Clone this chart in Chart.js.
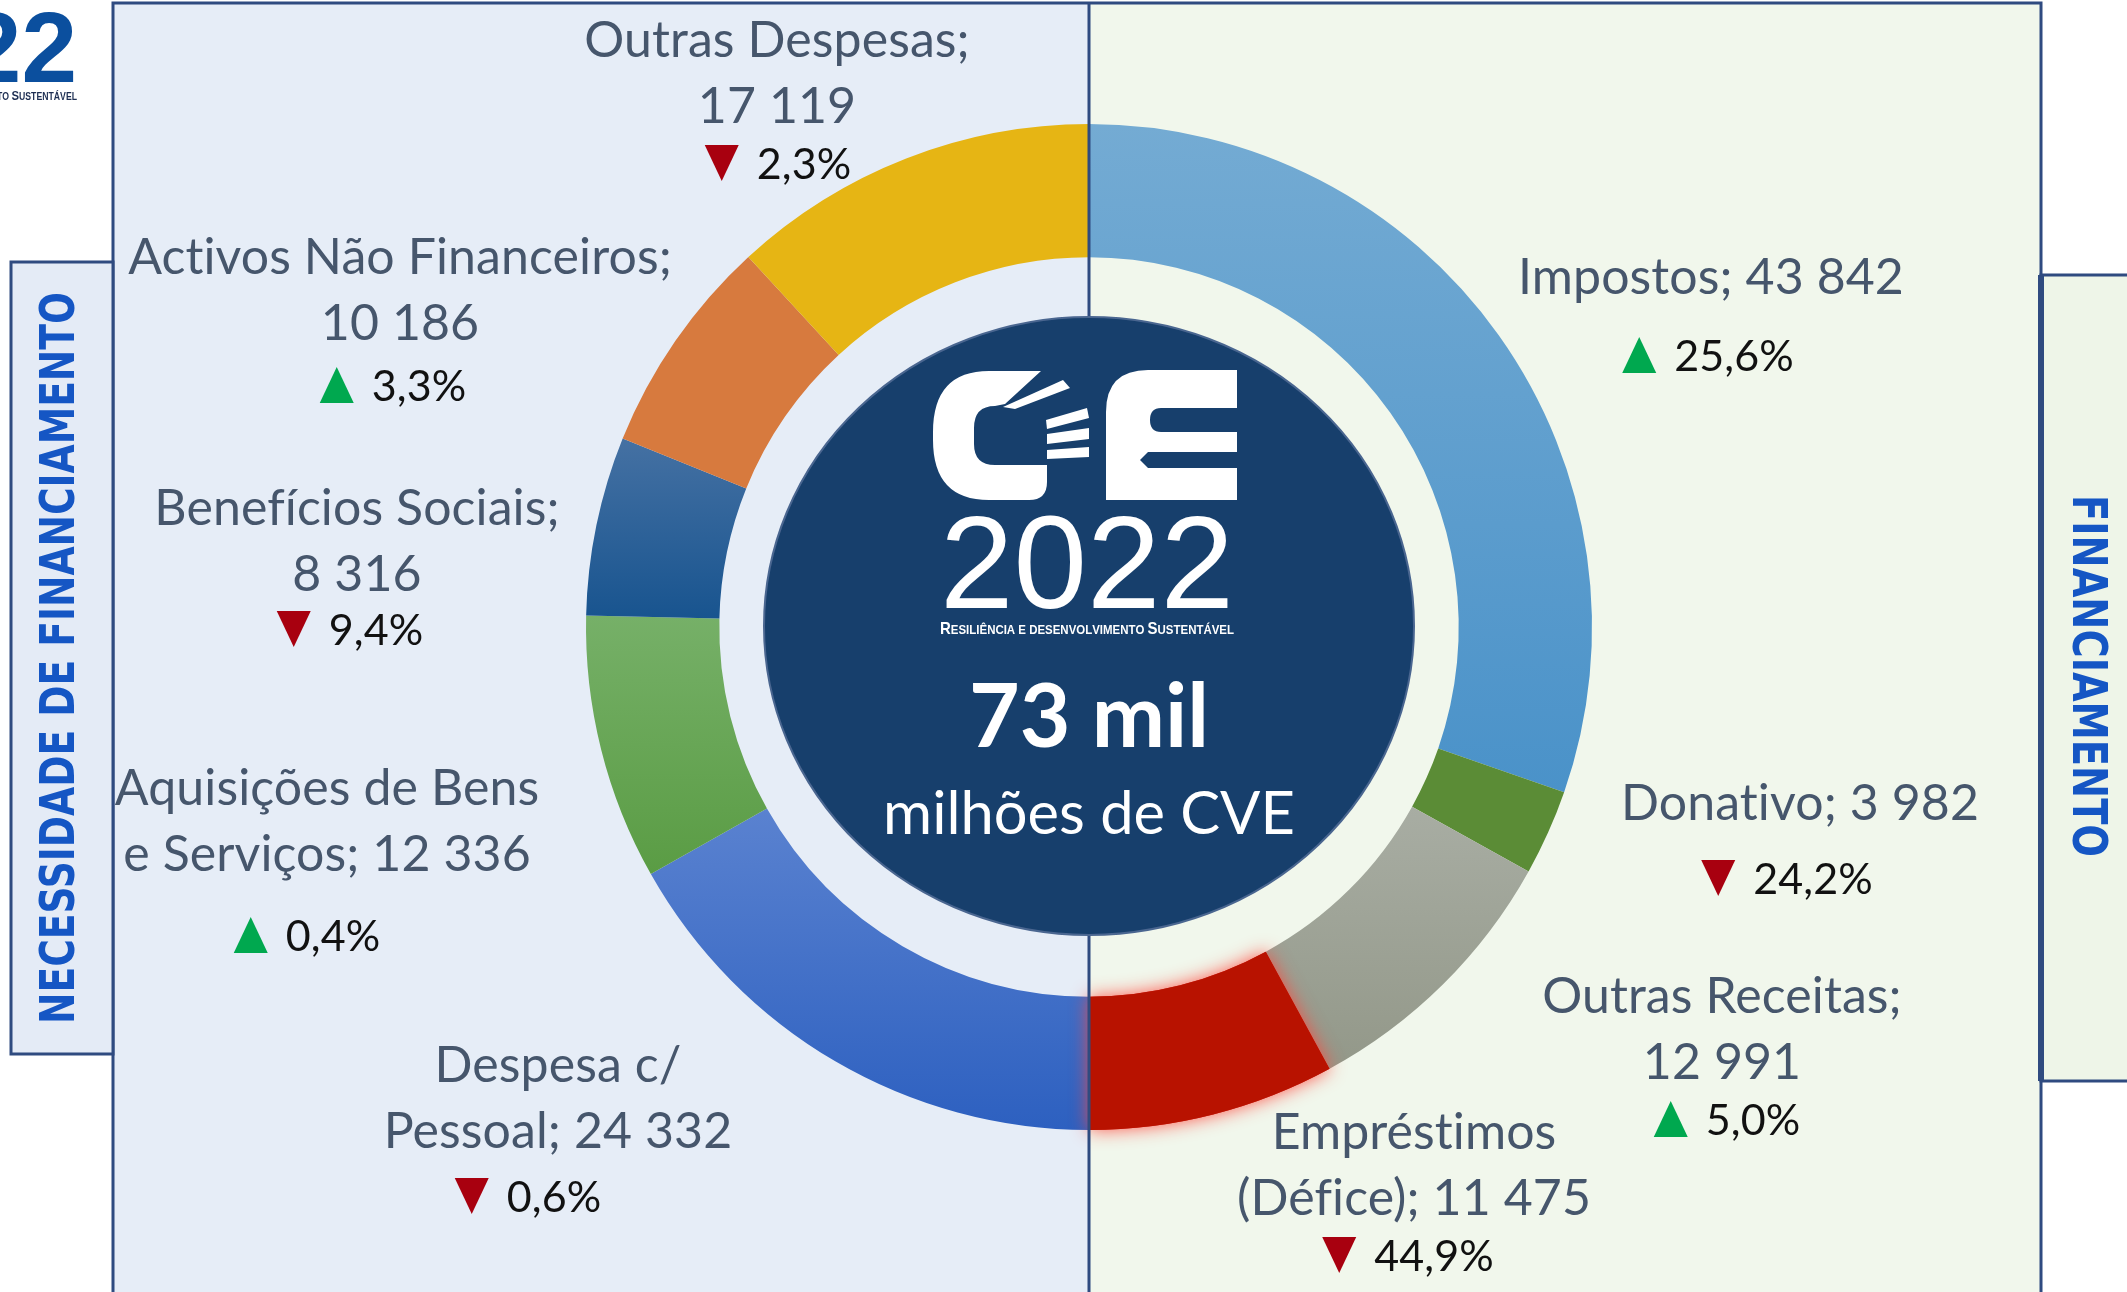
<!DOCTYPE html>
<html lang="pt">
<head>
<meta charset="utf-8">
<title>OE 2022 - Necessidade de financiamento e financiamento</title>
<script src="https://cdn.jsdelivr.net/npm/chart.js@4.4.1/dist/chart.umd.min.js"></script>
<style>
    html, body { margin: 0; padding: 0; background: #fff; }
    #wrap { width: 2127px; height: 1292px; }
</style>
</head>
<body>
<div id="wrap"><canvas id="oe" width="2127" height="1292"></canvas></div>
<script>
// ------------------------------------------------------------
// Dados (milhões de CVE) - sentido horário a partir do topo
// ------------------------------------------------------------
const categories = [
    'Impostos', 'Donativo', 'Outras Receitas', 'Empréstimos (Défice)',
    'Despesa c/ Pessoal', 'Aquisições de Bens e Serviços', 'Benefícios Sociais',
    'Activos Não Financeiros', 'Outras Despesas',
];
const values = [43842, 3982, 12991, 11475, 24332, 12336, 8316, 10186, 17119];
// variação em %
const changes = [25.6, -24.2, 5.0, -44.9, -0.6, 0.4, -9.4, 3.3, -2.3];

const totalText = '73 mil';
const unitText = 'milhões de CVE';
const leftTitle = 'NECESSIDADE DE FINANCIAMENTO';
const rightTitle = 'FINANCIAMENTO';
const logoYear = '2022';
const logoMotto = 'Resiliência e desenvolvimento Sustentável';

// cores (topo / base do gradiente)
const colorsTop = ['#74abd3', '#5b8c36', '#a8ada3', '#b81200', '#5a82d0', '#76b068', '#4571a3', '#d77a3e', '#e6b514'];
const colorsBottom = ['#4a92c9', '#5b8c36', '#939889', '#b81200', '#2d60c0', '#5a9c44', '#18548f', '#d77a3e', '#e6b514'];
const glowIndex = 3;
const cutoutRatio = 0.735;

// posição das etiquetas: centro do texto, quebra de linha (nº de palavras), linha da variação
const labelLayout = [
    { x: 1711, y: 278, wrap: 0, px: 1708, py: 355 },
    { x: 1800, y: 804, wrap: 0, px: 1787, py: 878 },
    { x: 1722, y: 997, wrap: 2, px: 1727, py: 1119 },
    { x: 1414, y: 1133, wrap: 1, px: 1408, py: 1255 },
    { x: 558, y: 1066, wrap: 2, px: 528, py: 1196 },
    { x: 327, y: 789, wrap: 3, px: 307, py: 935 },
    { x: 357, y: 509, wrap: 2, px: 350, py: 629 },
    { x: 400, y: 258, wrap: 3, px: 393, py: 385 },
    { x: 777, y: 41, wrap: 2, px: 778, py: 163 },
];

const navy = '#2f4b80';
const labelFont = 'Lato, "Open Sans", sans-serif';

// ------------------------------------------------------------
// Ajudantes
// ------------------------------------------------------------
function fmt(v) {
    return String(v).replace(/\B(?=(\d{3})+(?!\d))/g, ' ');
}

function labelLines(i) {
    const words = (categories[i] + '; ' + fmt(values[i])).split(' ');
    const n = labelLayout[i].wrap;
    return n ? [words.slice(0, n).join(' '), words.slice(n).join(' ')] : [words.join(' ')];
}

// limites verticais de um sector (para o gradiente)
function arcBounds(chart, i) {
    const a = chart.chartArea;
    const cy = (a.top + a.bottom) / 2;
    const R = Math.min(a.right - a.left, a.bottom - a.top) / 2;
    const r = R * cutoutRatio;
    const total = values.reduce((s, v) => s + v, 0);
    const before = values.slice(0, i).reduce((s, v) => s + v, 0);
    const a0 = -Math.PI / 2 + 2 * Math.PI * before / total;
    const a1 = a0 + 2 * Math.PI * values[i] / total;
    let lo = Infinity, hi = -Infinity;
    for (let k = 0; k <= 40; k++) {
        const t = a0 + (a1 - a0) * k / 40;
        [r, R].forEach(rad => {
            const y = cy + rad * Math.sin(t);
            lo = Math.min(lo, y);
            hi = Math.max(hi, y);
        });
    }
    return [lo, hi];
}

function segmentFill(c) {
    const i = c.dataIndex;
    if (c.type !== 'data' || !c.chart.chartArea) return colorsTop[i];
    if (colorsTop[i] === colorsBottom[i]) return colorsTop[i];
    const [y0, y1] = arcBounds(c.chart, i);
    const g = c.chart.ctx.createLinearGradient(0, y0, 0, y1);
    g.addColorStop(0, colorsTop[i]);
    g.addColorStop(1, colorsBottom[i]);
    return g;
}

function fitFont(ctx, text, weight, family, width) {
    ctx.font = `${weight} 100px ${family}`;
    const size = 100 * width / ctx.measureText(text).width;
    ctx.font = `${weight} ${size}px ${family}`;
}

// versaletes (maiúsculas grandes, minúsculas em maiúsculas pequenas)
function drawSmallCaps(ctx, text, x, y, big, small, width, align, color) {
    const fam = '"Liberation Sans", Arial, sans-serif';
    const parts = [...text].map(ch => {
        const up = ch.toUpperCase();
        const isCap = ch === up && ch !== ch.toLowerCase();
        return { ch: up, size: isCap ? big : small };
    });
    let total = 0;
    parts.forEach(p => {
        ctx.font = `bold ${p.size}px ${fam}`;
        p.w = ctx.measureText(p.ch).width;
        total += p.w;
    });
    ctx.save();
    ctx.translate(align === 'right' ? x - width : x - width / 2, y);
    ctx.scale(width / total, 1);
    ctx.fillStyle = color;
    ctx.textAlign = 'left';
    ctx.textBaseline = 'alphabetic';
    let px = 0;
    parts.forEach(p => {
        ctx.font = `bold ${p.size}px ${fam}`;
        ctx.fillText(p.ch, px, 0);
        px += p.w;
    });
    ctx.restore();
}

function drawSideTitle(ctx, text, cx, cy, len, angle) {
    ctx.save();
    ctx.translate(cx, cy);
    ctx.rotate(angle);
    ctx.font = 'bold 48px "Liberation Sans Narrow", "DejaVu Sans Condensed", sans-serif';
    const w = ctx.measureText(text).width;
    ctx.scale(len / w, 1);
    ctx.fillStyle = '#1556c4';
    ctx.textAlign = 'center';
    ctx.textBaseline = 'middle';
    ctx.fillText(text, 0, 0);
    ctx.restore();
}

// símbolo "OE"
function drawEmblem(ctx, ox, oy) {
    ctx.save();
    ctx.translate(ox, oy);
    ctx.fillStyle = '#fff';
    // C
    ctx.beginPath();
    ctx.moveTo(0, 62);
    ctx.quadraticCurveTo(0, 1, 56, 1);
    ctx.lineTo(108, 1);
    ctx.lineTo(72, 34);
    ctx.lineTo(62, 36);
    ctx.quadraticCurveTo(41, 36, 41, 58);
    ctx.lineTo(41, 74);
    ctx.quadraticCurveTo(41, 95, 62, 95);
    ctx.lineTo(114, 95);
    ctx.lineTo(114, 112);
    ctx.quadraticCurveTo(114, 130, 96, 130);
    ctx.lineTo(56, 130);
    ctx.quadraticCurveTo(0, 130, 0, 70);
    ctx.closePath();
    ctx.fill();
    // riscas
    [
        [[70, 37], [130, 10], [137, 18], [82, 39]],
        [[113, 50], [154, 38], [156, 48], [114, 59]],
        [[114, 64], [156, 58], [156, 69], [114, 74]],
        [[114, 80], [156, 77], [156, 87], [114, 89]],
    ].forEach(poly => {
        ctx.beginPath();
        poly.forEach(([x, y], k) => (k ? ctx.lineTo(x, y) : ctx.moveTo(x, y)));
        ctx.closePath();
        ctx.fill();
    });
    // E
    ctx.beginPath();
    ctx.moveTo(173, 42);
    ctx.quadraticCurveTo(173, 0, 215, 0);
    ctx.lineTo(304, 0);
    ctx.lineTo(304, 38);
    ctx.lineTo(228, 38);
    ctx.quadraticCurveTo(217, 38, 217, 50);
    ctx.quadraticCurveTo(217, 62, 228, 62);
    ctx.lineTo(304, 62);
    ctx.lineTo(304, 82);
    ctx.lineTo(215, 82);
    ctx.lineTo(207, 90);
    ctx.lineTo(215, 98);
    ctx.lineTo(304, 98);
    ctx.lineTo(304, 130);
    ctx.lineTo(173, 130);
    ctx.closePath();
    ctx.fill();
    ctx.restore();
}

function drawBackground(ctx) {
    // painéis
    ctx.fillStyle = '#e6edf7';
    ctx.fillRect(113, 3, 976, 1300);
    ctx.fillStyle = '#f1f7ec';
    ctx.fillRect(1089, 3, 952, 1300);
    ctx.strokeStyle = navy;
    ctx.lineWidth = 3;
    ctx.beginPath();
    ctx.moveTo(113, 1300);
    ctx.lineTo(113, 3);
    ctx.lineTo(2041, 3);
    ctx.lineTo(2041, 1300);
    ctx.stroke();

    // caixas laterais
    ctx.fillStyle = '#e4ebf6';
    ctx.fillRect(11, 262, 102, 792);
    ctx.strokeRect(11, 262, 102, 792);
    drawSideTitle(ctx, leftTitle, 62, 658, 732, -Math.PI / 2);

    ctx.fillStyle = '#eef5e8';
    ctx.fillRect(2041, 275, 110, 806);
    ctx.lineWidth = 3;
    ctx.strokeRect(2041, 275, 110, 806);
    ctx.lineWidth = 6;
    ctx.beginPath();
    ctx.moveTo(2041, 275);
    ctx.lineTo(2041, 1081);
    ctx.stroke();
    drawSideTitle(ctx, rightTitle, 2085, 676, 362, Math.PI / 2);

    // logótipo cortado no canto
    ctx.fillStyle = '#0b4f9e';
    ctx.font = 'bold 100px "Liberation Sans", Arial, sans-serif';
    ctx.textAlign = 'right';
    ctx.textBaseline = 'alphabetic';
    ctx.fillText(logoYear, 77, 82);
    drawSmallCaps(ctx, logoMotto, 77, 100, 13, 10, 223, 'right', '#1d2e52');
}

function drawCenter(ctx, cx, cy) {
    ctx.save();
    ctx.beginPath();
    ctx.ellipse(cx, cy - 1, 325, 309, 0, 0, Math.PI * 2);
    ctx.fillStyle = '#173f6c';
    ctx.fill();
    ctx.lineWidth = 2;
    ctx.strokeStyle = '#4a6690';
    ctx.stroke();

    drawEmblem(ctx, cx - 156, cy - 257);

    ctx.fillStyle = '#fff';
    ctx.textAlign = 'center';
    ctx.textBaseline = 'alphabetic';
    fitFont(ctx, logoYear, 'normal', '"Liberation Sans", Arial, sans-serif', 294);
    ctx.fillText(logoYear, cx - 2, cy - 19);
    drawSmallCaps(ctx, logoMotto, cx - 2, cy + 7, 17, 13, 294, 'center', '#fff');

    ctx.textBaseline = 'middle';
    fitFont(ctx, totalText, 'bold', labelFont, 240);
    ctx.fillText(totalText, cx, cy + 92);
    fitFont(ctx, unitText, 'normal', labelFont, 412);
    ctx.fillText(unitText, cx, cy + 188);
    ctx.restore();
}

function drawLabels(ctx) {
    ctx.save();
    ctx.textBaseline = 'middle';
    // evita ligaduras (ti, fi) da Lato
    ctx.letterSpacing = '0.1px';
    categories.forEach((_, i) => {
        const L = labelLayout[i];
        ctx.textAlign = 'center';
        ctx.font = `50px ${labelFont}`;
        ctx.fillStyle = '#46566c';
        labelLines(i).forEach((line, k) => ctx.fillText(line, L.x, L.y + k * 66));

        // variação
        const up = changes[i] >= 0;
        const txt = Math.abs(changes[i]).toFixed(1).replace('.', ',') + '%';
        ctx.font = `43px ${labelFont}`;
        const tw = ctx.measureText(txt).width;
        const triW = 34, triH = 18, gap = 18;
        const x0 = L.px - (triW + gap + tw) / 2;
        ctx.fillStyle = up ? '#00a84f' : '#a8000f';
        ctx.beginPath();
        if (up) {
            ctx.moveTo(x0, L.py + triH);
            ctx.lineTo(x0 + triW, L.py + triH);
            ctx.lineTo(x0 + triW / 2, L.py - triH);
        } else {
            ctx.moveTo(x0, L.py - triH);
            ctx.lineTo(x0 + triW, L.py - triH);
            ctx.lineTo(x0 + triW / 2, L.py + triH);
        }
        ctx.fill();
        ctx.fillStyle = '#111';
        ctx.textAlign = 'left';
        ctx.fillText(txt, x0 + triW + gap, L.py + 2);
    });
    ctx.restore();
}

// ------------------------------------------------------------
// Plugin da página
// ------------------------------------------------------------
const pagePlugin = {
    id: 'oePage',
    beforeDraw(chart) {
        drawBackground(chart.ctx);
    },
    afterDatasetsDraw(chart) {
        const { ctx, chartArea: a } = chart;
        const cx = (a.left + a.right) / 2;
        const cy = (a.top + a.bottom) / 2;

        // brilho vermelho no défice
        const arc = chart.getDatasetMeta(0).data[glowIndex];
        ctx.save();
        ctx.shadowColor = 'rgba(255, 70, 60, 0.9)';
        ctx.shadowBlur = 18;
        arc.draw(ctx);
        ctx.restore();

        // divisória
        ctx.save();
        ctx.strokeStyle = navy;
        ctx.lineWidth = 3;
        ctx.beginPath();
        ctx.moveTo(cx, 3);
        ctx.lineTo(cx, 1300);
        ctx.stroke();
        ctx.restore();

        drawCenter(ctx, cx, cy);
    },
    afterDraw(chart) {
        drawLabels(chart.ctx);
    },
};

new Chart(document.getElementById('oe'), {
    type: 'doughnut',
    data: {
        labels: categories,
        datasets: [{
            data: values,
            backgroundColor: segmentFill,
            borderWidth: 0,
            hoverOffset: 0,
        }],
    },
    options: {
        responsive: false,
        animation: false,
        events: [],
        cutout: (cutoutRatio * 100) + '%',
        layout: { padding: { top: 124, bottom: 162, left: 586, right: 535 } },
        plugins: {
            legend: { display: false },
            tooltip: { enabled: false },
        },
    },
    plugins: [pagePlugin],
});
</script>
</body>
</html>
